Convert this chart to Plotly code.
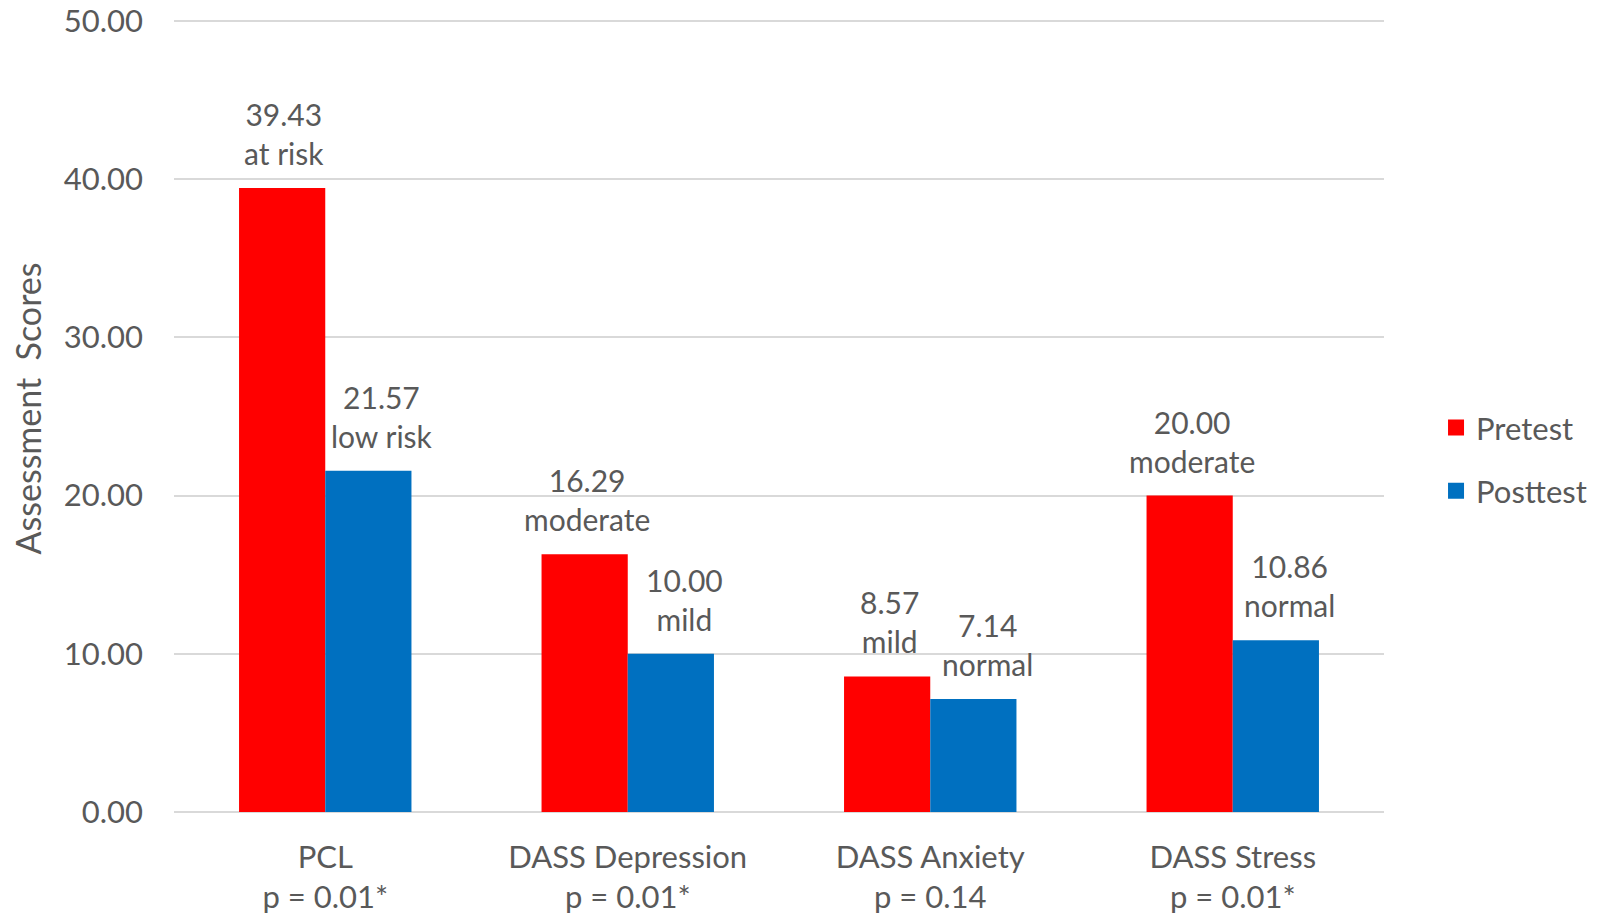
import plotly.graph_objects as go

categories = ["PCL<br>p = 0.01*", "DASS Depression<br>p = 0.01*", "DASS Anxiety<br>p = 0.14", "DASS Stress<br>p = 0.01*"]
pretest = [39.43, 16.29, 8.57, 20.00]
posttest = [21.57, 10.00, 7.14, 10.86]
pre_labels = ["at risk", "moderate", "mild", "moderate"]
post_labels = ["low risk", "mild", "normal", "normal"]
series_names = ["Pretest", "Posttest"]
series_colors = ["#ff0000", "#0070c0"]

FONT = "Lato"
GRAY = "#595959"
GRID = "#d9d9d9"

fig = go.Figure()
for name, vals, col in zip(series_names, [pretest, posttest], series_colors):
    fig.add_trace(go.Bar(name=name, x=categories, y=vals, marker_color=col,
                         marker_line_width=0, showlegend=False))
# legend entries with larger square swatches
for i, (name, col) in enumerate(zip(series_names, series_colors)):
    fig.add_trace(go.Scatter(name=name, x=[None], y=[None], mode="markers",
                             marker=dict(symbol="square", size=18, color=col),
                             legendgroup=str(i), showlegend=True))

bar_px = 86
for cat, v, lab in zip(categories, pretest, pre_labels):
    fig.add_annotation(x=cat, y=v, text=f"{v:.2f}<br>{lab}", showarrow=False,
                       xshift=-bar_px / 2 + 2, yshift=15, yanchor="bottom",
                       font=dict(family=FONT, size=30, color=GRAY))
for cat, v, lab in zip(categories, posttest, post_labels):
    fig.add_annotation(x=cat, y=v, text=f"{v:.2f}<br>{lab}", showarrow=False,
                       xshift=bar_px / 2 + 14, yshift=15, yanchor="bottom",
                       font=dict(family=FONT, size=30, color=GRAY))

fig.update_layout(
    width=1604, height=915,
    margin=dict(l=174, r=220, t=5, b=103, autoexpand=False),
    paper_bgcolor="white", plot_bgcolor="white",
    barmode="group", bargap=0.43, bargroupgap=0,
    font=dict(family=FONT, size=31, color=GRAY),
    legend=dict(x=1.043, y=0.437, xanchor="left", yanchor="middle",
                font=dict(family=FONT, size=31, color=GRAY),
                tracegroupgap=20, itemwidth=30),
    showlegend=True,
)
fig.update_yaxes(range=[0, 51], tickvals=[0, 10, 20, 30, 40, 50], tickformat=".2f",
                 showgrid=True, automargin=False,
                 gridcolor=GRID, gridwidth=2, zeroline=True, zerolinecolor=GRID,
                 zerolinewidth=2, showline=False, ticks="", ticklabelstandoff=30,
                 tickfont=dict(family=FONT, size=31, color=GRAY),
                 title=dict(text="Assessment  Scores", standoff=11,
                            font=dict(family=FONT, size=34, color=GRAY)))
fig.update_xaxes(showline=False, ticks="", ticklabelstandoff=24, automargin=False,
                 tickfont=dict(family=FONT, size=31, color=GRAY))

fig.write_html("out.html")
